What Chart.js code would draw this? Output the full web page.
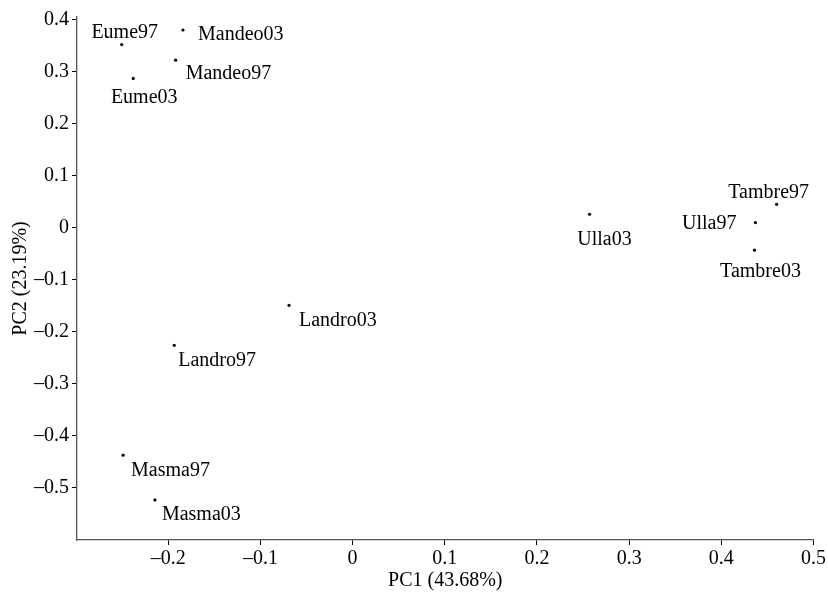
<!DOCTYPE html>
<html>
<head>
<meta charset="utf-8">
<script src="https://cdn.jsdelivr.net/npm/chart.js@4/dist/chart.umd.min.js"></script>
<style>
  html, body { margin: 0; padding: 0; background: #fff; }
  #wrap { width: 828px; height: 596px; position: relative; }
</style>
</head>
<body>
<div id="wrap"><canvas id="pca"></canvas></div>
<script>
// Sample sites (river + year) and their principal component scores
const sites = ['Eume97', 'Eume03', 'Mandeo03', 'Mandeo97', 'Ulla03', 'Tambre97',
               'Ulla97', 'Tambre03', 'Landro03', 'Landro97', 'Masma97', 'Masma03'];
const pc1 = [-0.2505, -0.238, -0.184, -0.192, 0.257, 0.460,
             0.437, 0.436, -0.069, -0.1935, -0.249, -0.2145];
const pc2 = [0.352, 0.287, 0.380, 0.322, 0.026, 0.045,
             0.010, -0.043, -0.149, -0.226, -0.437, -0.523];

// Axis ticks
const xTicks = [-0.2, -0.1, 0, 0.1, 0.2, 0.3, 0.4, 0.5];
const yTicks = [-0.5, -0.4, -0.3, -0.2, -0.1, 0, 0.1, 0.2, 0.3, 0.4];

const xTitle = 'PC1 (43.68%)';
const yTitle = 'PC2 (23.19%)';

// Where each site name sits relative to its dot (pixels) and how it is aligned
const labelPlacement = {
  Eume97:   { dx: 3,   dy: -12, align: 'center' },
  Eume03:   { dx: 11,  dy: 19,  align: 'center' },
  Mandeo03: { dx: 15,  dy: 5,   align: 'left' },
  Mandeo97: { dx: 10,  dy: 14,  align: 'left' },
  Ulla03:   { dx: 15,  dy: 26,  align: 'center' },
  Tambre97: { dx: -8,  dy: -12, align: 'center' },
  Ulla97:   { dx: -19, dy: 1,   align: 'right' },
  Tambre03: { dx: 6,   dy: 22,  align: 'center' },
  Landro03: { dx: 10,  dy: 15,  align: 'left' },
  Landro97: { dx: 4,   dy: 15,  align: 'left' },
  Masma97:  { dx: 8,   dy: 16,  align: 'left' },
  Masma03:  { dx: 7,   dy: 15,  align: 'left' }
};

const FONT = "'Liberation Serif', 'Times New Roman', serif";
const fmt = v => (v < 0 ? '\u2013' + String(Math.abs(v)) : String(v));

const points = sites.map((s, i) => ({ x: pc1[i], y: pc2[i], name: s }));

const siteLabels = {
  id: 'siteLabels',
  afterDatasetsDraw(chart) {
    const ctx = chart.ctx;
    const xs = chart.scales.x, ys = chart.scales.y;
    ctx.save();
    ctx.font = '20px ' + FONT;
    ctx.fillStyle = '#000';
    ctx.textBaseline = 'middle';
    points.forEach(p => {
      const pl = labelPlacement[p.name];
      ctx.textAlign = pl.align;
      ctx.fillText(p.name, xs.getPixelForValue(p.x) + pl.dx, ys.getPixelForValue(p.y) + pl.dy);
    });
    ctx.restore();
  }
};

new Chart(document.getElementById('pca'), {
  type: 'scatter',
  data: {
    datasets: [{
      data: points,
      backgroundColor: '#000',
      borderColor: '#000',
      pointRadius: 1.6,
      pointHoverRadius: 1.6,
      borderWidth: 0
    }]
  },
  options: {
    responsive: true,
    maintainAspectRatio: false,
    animation: false,
    events: [],
    layout: { padding: { top: 17, right: 14, left: 0, bottom: 0 } },
    plugins: { legend: { display: false }, tooltip: { enabled: false } },
    scales: {
      x: {
        type: 'linear',
        min: -0.299,
        max: 0.5,
        afterBuildTicks: s => { s.ticks = xTicks.map(v => ({ value: v })); },
        afterFit: s => { s.height = 56; },
        grid: { drawOnChartArea: false, drawTicks: true, tickLength: 5, color: '#000', lineWidth: 1 },
        border: { display: true, color: '#555', width: 1.3 },
        ticks: {
          color: '#000',
          font: { family: FONT, size: 20 },
          padding: 2,
          maxRotation: 0,
          autoSkip: false,
          callback: v => fmt(v)
        },
        title: {
          display: true,
          text: xTitle,
          color: '#000',
          font: { family: FONT, size: 20 },
          padding: { top: 3, bottom: 3 }
        }
      },
      y: {
        type: 'linear',
        min: -0.6,
        max: 0.405,
        afterBuildTicks: s => { s.ticks = yTicks.map(v => ({ value: v })); },
        afterFit: s => { s.width = 77; },
        grid: { drawOnChartArea: false, drawTicks: true, tickLength: 5, color: '#000', lineWidth: 1 },
        border: { display: true, color: '#555', width: 1.3 },
        ticks: {
          color: '#000',
          font: { family: FONT, size: 20 },
          padding: 3,
          autoSkip: false,
          callback: v => fmt(v)
        },
        title: {
          display: true,
          text: yTitle,
          color: '#000',
          font: { family: FONT, size: 20 },
          padding: { top: 9, bottom: 9 }
        }
      }
    }
  },
  plugins: [siteLabels]
});
</script>
</body>
</html>
